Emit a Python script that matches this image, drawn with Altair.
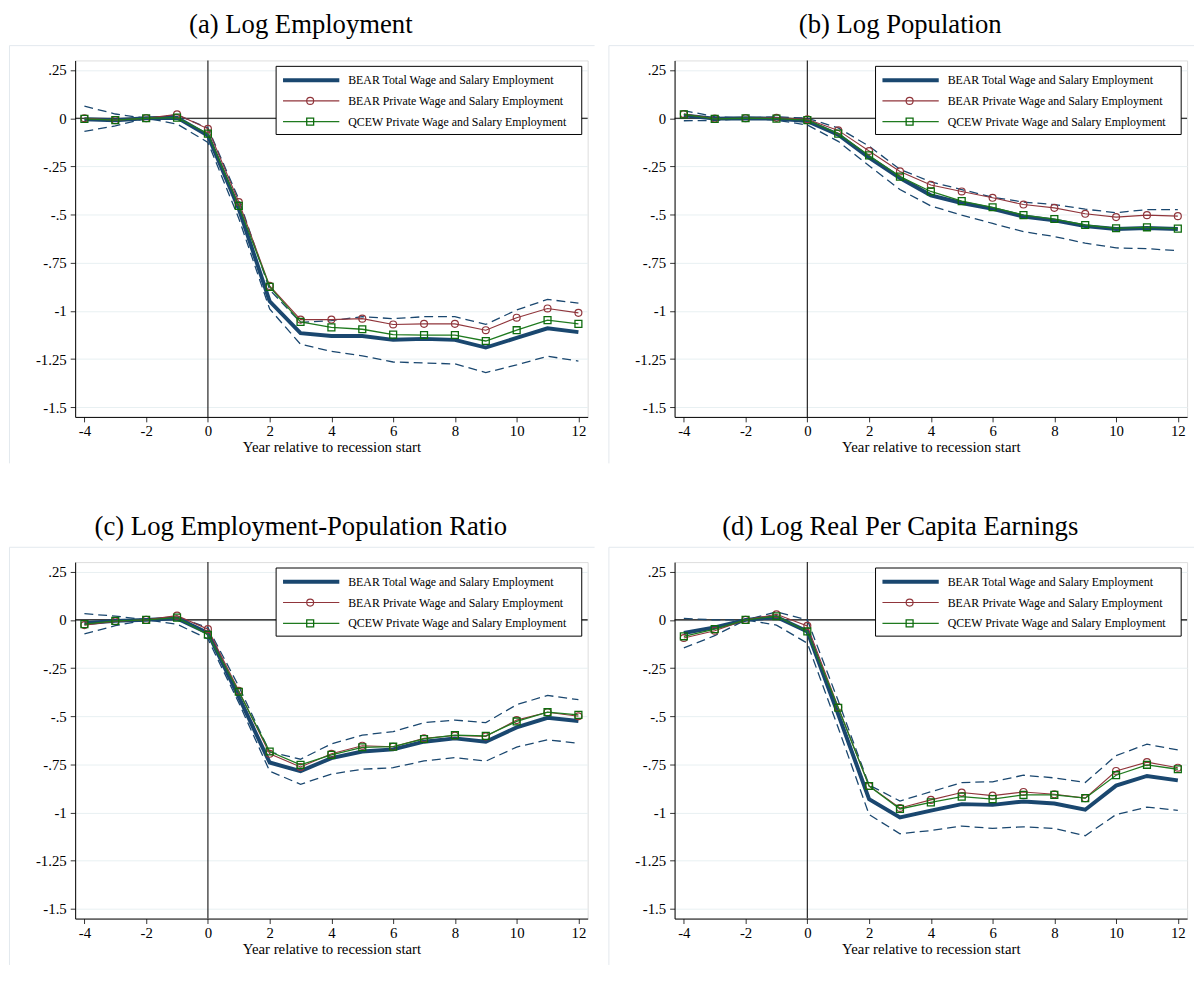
import altair as alt
import pandas as pd

years = list(range(-4, 13))

series_names = [
    "BEAR Total Wage and Salary Employment",
    "BEAR Private Wage and Salary Employment",
    "QCEW Private Wage and Salary Employment",
]

panel_titles = [
    "(a) Log Employment",
    "(b) Log Population",
    "(c) Log Employment-Population Ratio",
    "(d) Log Real Per Capita Earnings",
]

# (a) Log Employment
a_total = [-0.005, -0.01, 0.0, 0.003, -0.09, -0.47, -0.95, -1.115, -1.13, -1.13, -1.15, -1.145, -1.15, -1.19, -1.14, -1.09, -1.11]
a_priv = [0.0, -0.01, 0.0, 0.02, -0.055, -0.435, -0.87, -1.045, -1.045, -1.04, -1.07, -1.067, -1.067, -1.10, -1.035, -0.987, -1.01]
a_qcew = [-0.003, -0.01, 0.0, 0.003, -0.08, -0.455, -0.875, -1.057, -1.085, -1.095, -1.123, -1.125, -1.125, -1.156, -1.10, -1.048, -1.067]
a_hi = [0.063, 0.022, 0.0, 0.017, -0.05, -0.42, -0.89, -1.06, -1.05, -1.03, -1.04, -1.03, -1.03, -1.07, -0.995, -0.94, -0.96]
a_lo = [-0.068, -0.04, 0.0, -0.03, -0.125, -0.52, -0.99, -1.173, -1.21, -1.233, -1.265, -1.27, -1.275, -1.32, -1.28, -1.235, -1.26]

# (b) Log Population
b_total = [0.015, -0.002, 0.0, -0.002, -0.015, -0.085, -0.205, -0.31, -0.40, -0.44, -0.47, -0.51, -0.53, -0.56, -0.575, -0.57, -0.575]
b_priv = [0.022, -0.002, 0.0, 0.002, -0.005, -0.063, -0.17, -0.276, -0.346, -0.38, -0.413, -0.448, -0.465, -0.496, -0.513, -0.503, -0.508]
b_qcew = [0.02, -0.003, 0.0, -0.002, -0.01, -0.08, -0.193, -0.303, -0.38, -0.43, -0.462, -0.503, -0.523, -0.554, -0.571, -0.566, -0.573]
b_hi = [0.04, 0.008, 0.0, 0.008, 0.0, -0.05, -0.145, -0.265, -0.33, -0.37, -0.41, -0.435, -0.448, -0.472, -0.49, -0.474, -0.474]
b_lo = [-0.013, -0.012, 0.0, -0.01, -0.035, -0.12, -0.247, -0.37, -0.455, -0.503, -0.546, -0.588, -0.614, -0.648, -0.673, -0.677, -0.687]

# (c) Log Employment-Population Ratio
c_total = [-0.017, -0.005, 0.0, 0.008, -0.068, -0.40, -0.74, -0.785, -0.717, -0.683, -0.672, -0.632, -0.615, -0.632, -0.558, -0.508, -0.525]
c_priv = [-0.027, -0.007, 0.0, 0.022, -0.048, -0.368, -0.695, -0.763, -0.695, -0.653, -0.658, -0.615, -0.60, -0.605, -0.52, -0.479, -0.50]
c_qcew = [-0.022, -0.005, 0.0, 0.012, -0.077, -0.373, -0.683, -0.752, -0.70, -0.661, -0.658, -0.618, -0.598, -0.602, -0.527, -0.479, -0.493]
c_hi = [0.032, 0.02, 0.0, 0.015, -0.04, -0.345, -0.685, -0.723, -0.643, -0.598, -0.58, -0.533, -0.52, -0.533, -0.44, -0.392, -0.414]
c_lo = [-0.073, -0.03, 0.0, -0.022, -0.099, -0.43, -0.785, -0.853, -0.80, -0.775, -0.767, -0.732, -0.715, -0.733, -0.66, -0.622, -0.64]

# (d) Log Real Per Capita Earnings
d_total = [-0.068, -0.039, 0.0, 0.015, -0.06, -0.49, -0.93, -1.025, -0.99, -0.956, -0.96, -0.942, -0.953, -0.985, -0.86, -0.81, -0.833]
d_priv = [-0.094, -0.056, 0.0, 0.029, -0.031, -0.453, -0.862, -0.976, -0.934, -0.896, -0.912, -0.893, -0.905, -0.925, -0.784, -0.738, -0.767]
d_qcew = [-0.085, -0.048, 0.0, 0.019, -0.06, -0.456, -0.862, -0.981, -0.947, -0.917, -0.93, -0.908, -0.908, -0.925, -0.806, -0.752, -0.775]
d_hi = [0.008, 0.0, 0.0, 0.042, 0.0, -0.42, -0.857, -0.94, -0.892, -0.844, -0.84, -0.806, -0.82, -0.844, -0.704, -0.645, -0.675]
d_lo = [-0.145, -0.082, 0.0, -0.027, -0.121, -0.56, -1.01, -1.11, -1.093, -1.07, -1.082, -1.074, -1.082, -1.12, -1.01, -0.972, -0.988]

y_ticks = [0.25, 0.0, -0.25, -0.5, -0.75, -1.0, -1.25, -1.5]
x_ticks = [-4, -2, 0, 2, 4, 6, 8, 10, 12]

NAVY = "#1a476f"
MAROON = "#90353b"
GREEN = "#1f7a1f"
GREEN_MK = "#0d6b0d"
GRID = "#e8f0f2"
FRAME = "#e3e9ee"
FONT = "Liberation Serif"

W = 519
H = 361


def panel(title, total, priv, qcew, hi, lo):
    df_total = pd.DataFrame({"year": years, "v": total})
    df_priv = pd.DataFrame({"year": years, "v": priv})
    df_qcew = pd.DataFrame({"year": years, "v": qcew})
    df_ci = pd.DataFrame({
        "year": years * 2,
        "v": hi + lo,
        "band": ["hi"] * len(years) + ["lo"] * len(years),
    })
    df_leg = pd.DataFrame({"label": series_names, "idx": [0, 1, 2]})

    xs = alt.Scale(domain=[-4.3, 12.3], nice=False, zero=False)
    ys = alt.Scale(domain=[-1.55, 0.3], nice=False, zero=False)

    x_axis = alt.Axis(
        values=x_ticks,
        labelExpr="(datum.value < 0 ? '-' : '') + abs(datum.value)",
        title="Year relative to recession start",
        titleFont=FONT, titleFontSize=15, titleFontWeight="normal", titleColor="black",
        titlePadding=1,
        labelFont=FONT, labelFontSize=15, labelColor="black", labelPadding=2,
        tickSize=5, tickColor="#333", domainColor="black", grid=False,
    )
    y_axis = alt.Axis(
        values=y_ticks,
        labelExpr="(datum.value < 0 ? '-' : '') + replace(format(abs(datum.value), '.2~f'), '0.', '.')",
        title=None,
        labelFont=FONT, labelFontSize=15, labelColor="black", labelPadding=4,
        tickSize=5, tickColor="#333", domainColor="black",
        grid=True, gridColor=GRID, gridWidth=1,
        minExtent=60, maxExtent=60,
    )

    base_x = alt.X("year:Q", scale=xs, axis=x_axis)
    base_y = alt.Y("v:Q", scale=ys, axis=y_axis)

    axes_layer = alt.Chart(df_total).mark_line(opacity=0).encode(x=base_x, y=base_y)

    zero_h = alt.Chart(pd.DataFrame({"v": [0.0]})).mark_rule(color="black", strokeWidth=1.2).encode(
        y=alt.Y("v:Q", scale=ys), x=alt.value(0), x2=alt.value(W))
    zero_v = alt.Chart(pd.DataFrame({"year": [0]})).mark_rule(color="#222", strokeWidth=1.2).encode(
        x=alt.X("year:Q", scale=xs), y=alt.value(0), y2=alt.value(H))

    ci = alt.Chart(df_ci).mark_line(color=NAVY, strokeWidth=1.3, strokeDash=[9, 5]).encode(
        x=alt.X("year:Q", scale=xs), y=alt.Y("v:Q", scale=ys), detail="band:N")
    l_total = alt.Chart(df_total).mark_line(color=NAVY, strokeWidth=4).encode(
        x=alt.X("year:Q", scale=xs), y=alt.Y("v:Q", scale=ys))
    l_priv = alt.Chart(df_priv).mark_line(color=MAROON, strokeWidth=1.1).encode(
        x=alt.X("year:Q", scale=xs), y=alt.Y("v:Q", scale=ys))
    p_priv = alt.Chart(df_priv).mark_point(shape="circle", filled=False, size=49, strokeWidth=1.2, color=MAROON, opacity=1).encode(
        x=alt.X("year:Q", scale=xs), y=alt.Y("v:Q", scale=ys))
    l_qcew = alt.Chart(df_qcew).mark_line(color=GREEN, strokeWidth=1.3).encode(
        x=alt.X("year:Q", scale=xs), y=alt.Y("v:Q", scale=ys))
    p_qcew = alt.Chart(df_qcew).mark_point(shape="square", filled=False, size=49, strokeWidth=1.3, color=GREEN_MK, opacity=1).encode(
        x=alt.X("year:Q", scale=xs), y=alt.Y("v:Q", scale=ys))

    # legend (inside plot, top right)
    leg_base = alt.Chart(df_leg).transform_calculate(ly="20 + 21 * datum.idx")
    leg_box = alt.Chart(pd.DataFrame({"k": [0]})).mark_rect(
        fill="white", stroke="black", strokeWidth=1).encode(
        x=alt.value(W - 315.5), x2=alt.value(W - 6), y=alt.value(6), y2=alt.value(75))
    leg_l0 = leg_base.transform_filter("datum.idx == 0").mark_rule(color=NAVY, strokeWidth=4).encode(
        x=alt.value(W - 308.5), x2=alt.value(W - 251.5), y=alt.Y("ly:Q", scale=None))
    leg_l1 = leg_base.transform_filter("datum.idx == 1").mark_rule(color=MAROON, strokeWidth=1.1).encode(
        x=alt.value(W - 308.5), x2=alt.value(W - 251.5), y=alt.Y("ly:Q", scale=None))
    leg_p1 = leg_base.transform_filter("datum.idx == 1").mark_point(
        shape="circle", filled=False, size=49, strokeWidth=1.2, color=MAROON, opacity=1).encode(
        x=alt.value(W - 281), y=alt.Y("ly:Q", scale=None))
    leg_l2 = leg_base.transform_filter("datum.idx == 2").mark_rule(color=GREEN, strokeWidth=1.3).encode(
        x=alt.value(W - 308.5), x2=alt.value(W - 251.5), y=alt.Y("ly:Q", scale=None))
    leg_p2 = leg_base.transform_filter("datum.idx == 2").mark_point(
        shape="square", filled=False, size=49, strokeWidth=1.3, color=GREEN_MK, opacity=1).encode(
        x=alt.value(W - 281), y=alt.Y("ly:Q", scale=None))
    leg_t = leg_base.mark_text(align="left", baseline="middle", font=FONT, fontSize=12, color="black").encode(
        x=alt.value(W - 242.5), y=alt.Y("ly:Q", scale=None), text="label:N")

    # faint outer frame of the graph region
    frame_l = alt.Chart(pd.DataFrame({"k": [0]})).mark_rule(color=FRAME, strokeWidth=1).encode(
        x=alt.value(-66.5), y=alt.value(-15), y2=alt.value(H + 47))
    frame_t = alt.Chart(pd.DataFrame({"k": [0]})).mark_rule(color=FRAME, strokeWidth=1).encode(
        x=alt.value(-66.5), x2=alt.value(W + 7), y=alt.value(-15))

    return alt.layer(
        frame_l, frame_t, axes_layer, zero_h, zero_v, ci, l_total, l_priv, p_priv, l_qcew, p_qcew,
        leg_box, leg_l0, leg_l1, leg_p1, leg_l2, leg_p2, leg_t,
    ).properties(
        width=W, height=H,
        title=alt.Title(title, font=FONT, fontSize=27, fontWeight="normal", color="black",
                        anchor="middle", dx=-31, offset=-15, baseline="alphabetic"),
    )


pa = panel(panel_titles[0], a_total, a_priv, a_qcew, a_hi, a_lo)
pb = panel(panel_titles[1], b_total, b_priv, b_qcew, b_hi, b_lo)
pc = panel(panel_titles[2], c_total, c_priv, c_qcew, c_hi, c_lo)
pd_ = panel(panel_titles[3], d_total, d_priv, d_qcew, d_hi, d_lo)

chart = alt.concat(pa, pb, pc, pd_, columns=2, spacing={"row": 147, "column": 88}, bounds="flush").properties(
    padding={"left": 0, "top": -3, "right": 0, "bottom": 0}
).configure_view(stroke=None).configure(background="white")

chart.save("out.html", embed_options={"renderer": "svg", "actions": False})
